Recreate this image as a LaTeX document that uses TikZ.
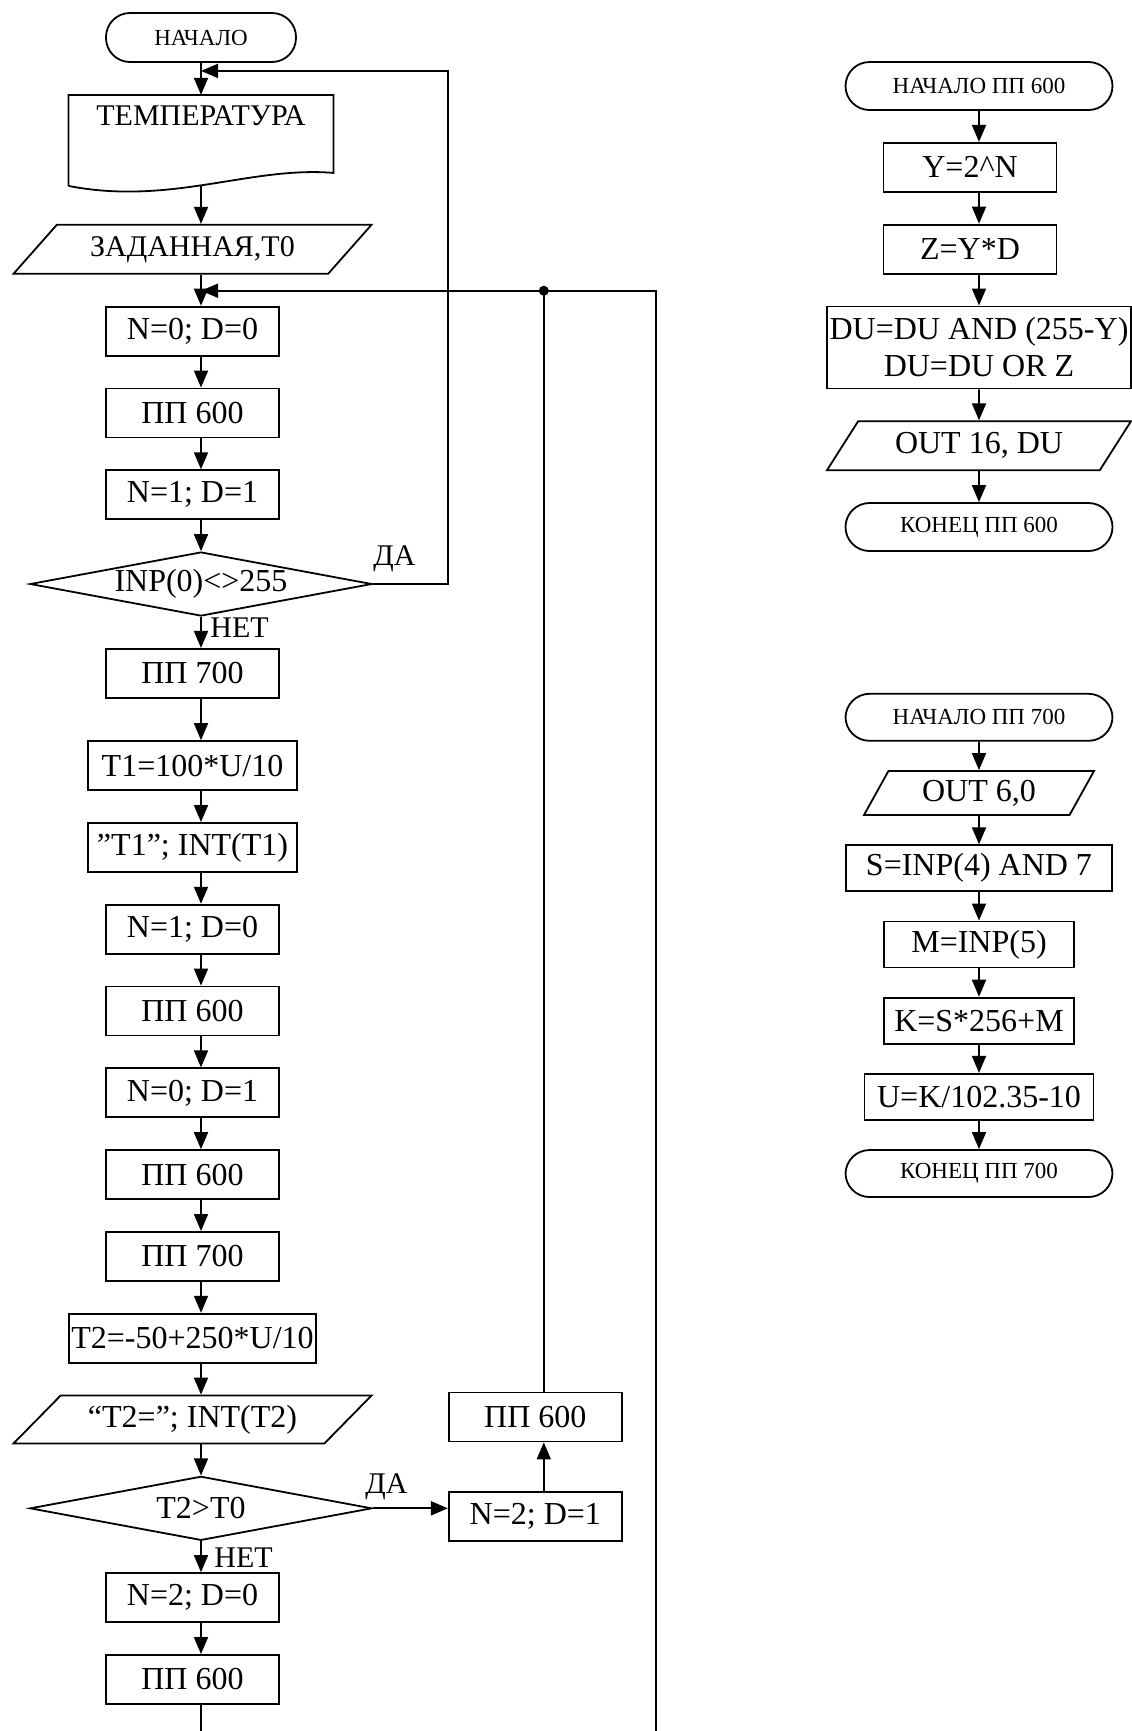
\documentclass[tikz,border=0pt]{standalone}
\usepackage{fontspec}
\setmainfont{Liberation Serif}
\usetikzlibrary{arrows.meta,positioning,calc,shapes.geometric}

\begin{document}
\begin{tikzpicture}[font=\fontsize{16}{18.5}\selectfont, node distance=15.5pt,
  box/.style={draw=black, line width=0.9pt, minimum width=86.5pt, minimum height=24.5pt, inner sep=1pt, align=center},
  term/.style={draw=black, line width=0.9pt, rounded corners=12pt, minimum width=95pt, minimum height=24.5pt, inner sep=1pt, font=\fontsize{11.5}{13}\selectfont},
  io/.style={draw=black, line width=0.9pt, trapezium, trapezium left angle=35, trapezium right angle=145, trapezium stretches body, minimum width=179pt, minimum height=24.5pt, inner sep=1pt},
  cond/.style={draw=black, line width=0.9pt, diamond, aspect=5.3, minimum width=171pt, minimum height=32pt, inner sep=0pt},
  doc/.style={minimum width=132.5pt, inner ysep=4pt, outer sep=0pt, text height=11.5pt, text depth=26pt, font=\fontsize{15}{17}\selectfont},
  lbl/.style={inner sep=0pt, font=\fontsize{15}{17}\selectfont},
  arrow/.style={-{Triangle[length=8.5pt, width=7pt]}, line width=0.9pt, draw=black},
  wire/.style={line width=0.9pt, draw=black}]
  \useasboundingbox (0,0) rectangle (565.5pt,-865.5pt);
  \node[term] (start) at (100.5pt,-18.75pt) {НАЧАЛО};
  \node[doc, below=16pt of start] (temp) {ТЕМПЕРАТУРА};
  \draw[wire] (temp.south west) -- (temp.north west) -- (temp.north east) -- ([yshift=6.5pt]temp.south east) .. controls +(-41.5pt,3.5pt) and +(51pt,-10pt) .. (temp.south west);
  \node[io, below=19pt of temp, xshift=-4.25pt, font=\fontsize{15}{17}\selectfont] (given) {ЗАДАННАЯ,Т0};
  \node[box, below=of given] (set00) {N=0; D=0};
  \node[box, below=of set00] (pp1) {ПП 600};
  \node[box, below=of pp1] (set11) {N=1; D=1};
  \node[cond, below=of set11, xshift=4.25pt] (check) {INP(0)<>255};
  \node[box, below=of check, xshift=-4.25pt] (pp2) {ПП 700};
  \node[box, below=20.75pt of pp2, minimum width=104.5pt] (calcT1) {T1=100*U/10};
  \node[box, below=of calcT1, minimum width=104.5pt] (showT1) {”T1”; INT(T1)};
  \node[box, below=of showT1] (set10) {N=1; D=0};
  \node[box, below=of set10] (pp3) {ПП 600};
  \node[box, below=of pp3] (set01) {N=0; D=1};
  \node[box, below=of set01] (pp4) {ПП 600};
  \node[box, below=of pp4] (pp5) {ПП 700};
  \node[box, below=of pp5, minimum width=123.5pt] (calcT2) {T2=-50+250*U/10};
  \node[io, below=of calcT2, minimum height=24pt] (showT2) {“T2=”; INT(T2)};
  \node[cond, below=of showT2, xshift=4.25pt] (cmpT) {T2>T0};
  \node[box, below=of cmpT, xshift=-4.25pt] (set20) {N=2; D=0};
  \node[box, below=of set20] (pp6) {ПП 600};
  \node[box, right=37.5pt of cmpT, yshift=-4.25pt] (set21) {N=2; D=1};
  \node[box, above=24.5pt of set21] (pp7) {ПП 600};
  \node[lbl, anchor=base west] (yes1) at ($(check.east)+(0,9.5pt)$) {ДА};
  \node[lbl, anchor=base west] (no1) at ($(check.south)+(4.5pt,-10.5pt)$) {НЕТ};
  \node[lbl, anchor=base west] (yes2) at ($(cmpT.east)+(-4pt,7.5pt)$) {ДА};
  \node[lbl, anchor=base west] (no2) at ($(cmpT.south)+(6.5pt,-13pt)$) {НЕТ};
  \coordinate (join1) at ($(start.south)+(0,-4pt)$);
  \coordinate (join2) at ($(given.south -| start)+(0,-8pt)$);
  \coordinate (loopR) at (328pt,-865.5pt);
  \coordinate (loopL) at (start |- loopR);
  \coordinate (tap) at ($(pp7.north)+(4.25pt,0)$);
  \draw[arrow] (start) -- (temp);
  \draw[arrow] (temp.south) -- (given.north -| start);
  \draw[arrow] (given.south -| start) -- (set00.north -| start);
  \draw[arrow] (set00.south -| start) -- (pp1.north -| start);
  \draw[arrow] (pp1.south -| start) -- (set11.north -| start);
  \draw[arrow] (set11.south -| start) -- (check);
  \draw[arrow] (check) -- (pp2.north -| start);
  \draw[arrow] (pp2.south -| start) -- (calcT1.north -| start);
  \draw[arrow] (calcT1.south -| start) -- (showT1.north -| start);
  \draw[arrow] (showT1.south -| start) -- (set10.north -| start);
  \draw[arrow] (set10.south -| start) -- (pp3.north -| start);
  \draw[arrow] (pp3.south -| start) -- (set01.north -| start);
  \draw[arrow] (set01.south -| start) -- (pp4.north -| start);
  \draw[arrow] (pp4.south -| start) -- (pp5.north -| start);
  \draw[arrow] (pp5.south -| start) -- (calcT2.north -| start);
  \draw[arrow] (calcT2.south -| start) -- (showT2.north -| start);
  \draw[arrow] (showT2.south -| start) -- (cmpT);
  \draw[arrow] (cmpT) -- (set20.north -| start);
  \draw[arrow] (set20.south -| start) -- (pp6.north -| start);
  \draw[wire] (pp6.south -| start) -- (loopL);
  \draw[arrow] (check.east) -- ++(37.5pt,0) |- (join1);
  \draw[arrow] (loopR) |- (join2);
  \draw[arrow] (cmpT.east) -- (cmpT.east -| set21.west);
  \draw[arrow] (set21.north -| tap) -- (pp7.south -| tap);
  \draw[wire] (tap) -- (tap |- join2);
  \fill (tap |- join2) circle (2.5pt);
  \node[term, minimum width=133.5pt, minimum height=24pt] (start600) at (489.5pt,-43pt) {НАЧАЛО ПП 600};
  \node[box, below=of start600, xshift=-4.5pt] (ybox) {Y=2\textasciicircum N};
  \node[box, below=of ybox] (zbox) {Z=Y*D};
  \node[box, below=of zbox, xshift=4.5pt, minimum width=152pt, minimum height=41pt] (dubox) {DU=DU AND (255-Y)\\DU=DU OR Z};
  \node[io, below=of dubox, trapezium left angle=44, trapezium right angle=136, minimum width=152pt] (out16) {OUT 16, DU};
  \node[term, below=of out16, minimum width=133.5pt, minimum height=24pt] (end600) {КОНЕЦ ПП 600};
  \draw[arrow] (start600) -- (start600 |- ybox.north);
  \draw[arrow] (ybox.south -| start600) -- (zbox.north -| start600);
  \draw[arrow] (zbox.south -| start600) -- (dubox);
  \draw[arrow] (dubox) -- (out16);
  \draw[arrow] (out16) -- (end600);
  \node[term, below=70.5pt of end600, minimum width=133.5pt, minimum height=23.5pt] (start700) {НАЧАЛО ПП 700};
  \node[io, below=14.2pt of start700, trapezium left angle=51, trapezium right angle=129, minimum width=115pt, minimum height=22pt] (out6) {OUT 6,0};
  \node[box, below=14.2pt of out6, minimum width=133pt, minimum height=23pt] (sbox) {S=INP(4) AND 7};
  \node[box, below=14.2pt of sbox, minimum width=95pt, minimum height=23pt] (mbox) {M=INP(5)};
  \node[box, below=14.2pt of mbox, minimum width=95pt, minimum height=23pt] (kbox) {K=S*256+M};
  \node[box, below=14.2pt of kbox, minimum width=114.5pt, minimum height=23pt] (ubox) {U=K/102.35-10};
  \node[term, below=14.2pt of ubox, minimum width=133.5pt, minimum height=23.5pt] (end700) {КОНЕЦ ПП 700};
  \draw[arrow] (start700) -- (out6);
  \draw[arrow] (out6) -- (sbox);
  \draw[arrow] (sbox) -- (mbox);
  \draw[arrow] (mbox) -- (kbox);
  \draw[arrow] (kbox) -- (ubox);
  \draw[arrow] (ubox) -- (end700);
\end{tikzpicture}
\end{document}
